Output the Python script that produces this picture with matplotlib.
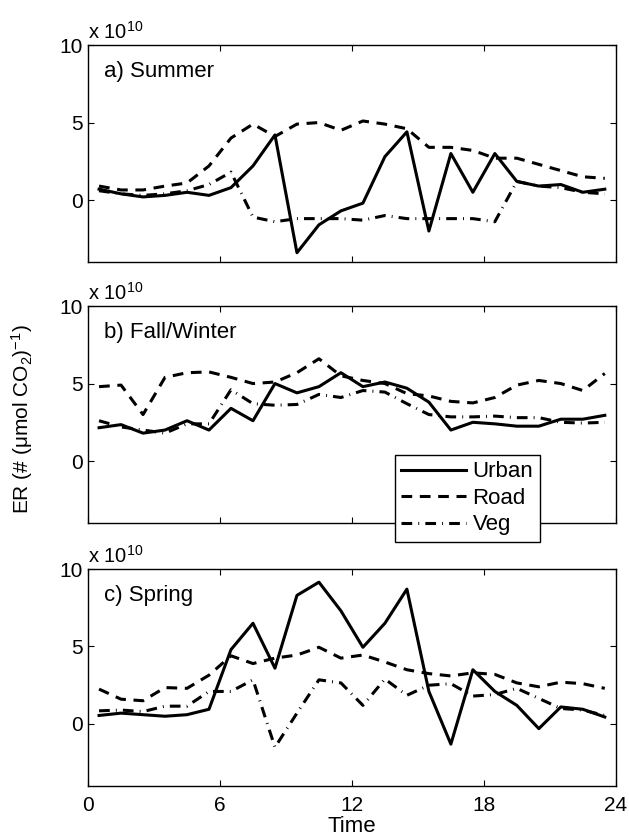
import numpy as np
import matplotlib
matplotlib.use("Agg")
import matplotlib.pyplot as plt

plt.rcParams["font.family"] = ["Liberation Sans", "DejaVu Sans"]
plt.rcParams["mathtext.fontset"] = "custom"
plt.rcParams["mathtext.rm"] = "Liberation Sans"
plt.rcParams["mathtext.it"] = "Liberation Sans:italic"

# hour of day (half-hour bin centres)
hours = np.arange(24) + 0.5

# values in units of 1e10
summer_urban = [0.7, 0.4, 0.2, 0.3, 0.5, 0.3, 0.8, 2.2, 4.2, -3.4, -1.6, -0.7,
                -0.2, 2.8, 4.4, -2.0, 3.0, 0.5, 3.0, 1.2, 0.9, 1.0, 0.5, 0.7]
summer_road = [0.9, 0.65, 0.65, 0.9, 1.1, 2.2, 4.0, 4.9, 4.1, 4.9, 5.0, 4.5,
               5.1, 4.9, 4.6, 3.4, 3.4, 3.2, 2.7, 2.7, 2.3, 1.9, 1.5, 1.4]
summer_veg = [0.6, 0.4, 0.3, 0.4, 0.6, 1.0, 1.8, -1.1, -1.4, -1.2, -1.2, -1.2,
              -1.3, -1.0, -1.2, -1.2, -1.2, -1.2, -1.4, 1.2, 0.9, 0.8, 0.5, 0.4]

fall_urban = [2.15, 2.35, 1.8, 2.0, 2.6, 2.0, 3.4, 2.6, 5.0, 4.4, 4.8, 5.7,
              4.8, 5.1, 4.7, 3.8, 2.0, 2.5, 2.4, 2.25, 2.25, 2.7, 2.7, 2.95]
fall_road = [4.8, 4.9, 3.0, 5.4, 5.7, 5.75, 5.4, 5.0, 5.1, 5.7, 6.6, 5.5,
             5.2, 5.0, 4.35, 4.2, 3.85, 3.75, 4.1, 4.9, 5.2, 5.0, 4.55, 5.65]
fall_veg = [2.6, 2.2, 2.0, 1.8, 2.4, 2.4, 4.6, 3.7, 3.6, 3.65, 4.3, 4.1,
            4.55, 4.45, 3.7, 3.0, 2.85, 2.85, 2.9, 2.8, 2.8, 2.5, 2.45, 2.5]

spring_urban = [0.55, 0.7, 0.6, 0.5, 0.6, 0.95, 4.8, 6.5, 3.6, 8.3, 9.15, 7.3,
                4.95, 6.5, 8.7, 2.1, -1.3, 3.5, 2.1, 1.2, -0.3, 1.1, 0.95, 0.45]
spring_road = [2.25, 1.6, 1.5, 2.35, 2.3, 3.15, 4.4, 3.9, 4.25, 4.45, 4.95, 4.25,
               4.45, 4.0, 3.5, 3.25, 3.1, 3.3, 3.2, 2.65, 2.4, 2.7, 2.6, 2.3]
spring_veg = [0.85, 0.9, 0.8, 1.15, 1.15, 2.1, 2.1, 2.85, -1.5, 0.7, 2.85, 2.65,
              1.2, 2.9, 1.85, 2.5, 2.6, 1.8, 1.9, 2.3, 1.65, 1.0, 0.9, 0.55]

panels = [
    ("a) Summer", summer_urban, summer_road, summer_veg),
    ("b) Fall/Winter", fall_urban, fall_road, fall_veg),
    ("c) Spring", spring_urban, spring_road, spring_veg),
]

fig = plt.figure(figsize=(6.29, 8.39), dpi=100)
left, width, height = 0.14, 0.839, 0.2586
bottoms = [0.6877, 0.3766, 0.0632]

axes = []
for (title, urban, road, veg), bottom in zip(panels, bottoms):
    ax = fig.add_axes([left, bottom, width, height])
    ax.plot(hours, urban, color="black", lw=2.2, ls="-", label="Urban")
    ax.plot(hours, road, color="black", lw=2.2, ls=(0, (3.5, 2.5)), label="Road")
    ax.plot(hours, veg, color="black", lw=2.2, ls=(0, (3.5, 2, 0.3, 2)), label="Veg")
    ax.set_xlim(0, 24)
    ax.set_ylim(-4, 10)
    ax.set_xticks([0, 6, 12, 18, 24])
    ax.set_yticks([0, 5, 10])
    ax.tick_params(direction="in", top=True, right=True, length=4,
                   labelsize=15, width=0.8)
    ax.tick_params(axis="x", pad=7)
    for s in ax.spines.values():
        s.set_linewidth(1.0)
    ax.text(0.03, 0.88, title, transform=ax.transAxes, fontsize=16,
            va="center", ha="left")
    ax.text(0.0, 1.01, r"x 10$^{10}$", transform=ax.transAxes, fontsize=14.5,
            va="bottom", ha="left")
    axes.append(ax)

for ax in axes[:2]:
    ax.set_xticklabels([])

axes[2].set_xlabel("Time", fontsize=16, labelpad=1)
fig.text(0.035, 0.5, r"ER (# ($\mathrm{\mu}$mol CO$_2$)$^{-1}$)", rotation=90,
         fontsize=15, va="center", ha="center")

leg = axes[1].legend(loc="upper left", bbox_to_anchor=(0.581, 0.315),
                     borderaxespad=0, fancybox=False, framealpha=1,
                     edgecolor="black", fontsize=16, handlelength=2.9,
                     handletextpad=0.3, labelspacing=0.25, borderpad=0.3)
leg.get_frame().set_linewidth(1.0)

fig.savefig("out.png", dpi=100, facecolor="white")
